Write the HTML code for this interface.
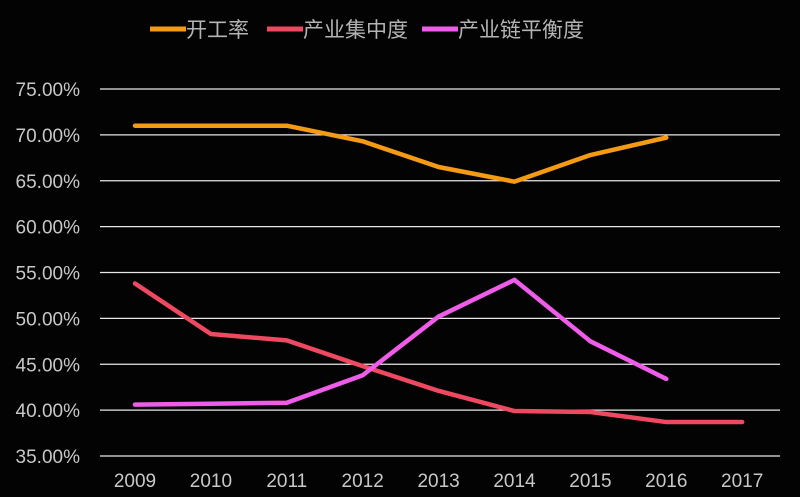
<!DOCTYPE html>
<html><head><meta charset="utf-8"><style>
html,body{margin:0;padding:0;background:#030303;}
svg{display:block;font-family:"Liberation Sans","Noto Sans CJK SC",sans-serif;}
</style></head><body>
<svg id="chart" width="800" height="497">
<g id="legend"></g>
<g id="grid"></g>
<g id="yaxis"></g>
<g id="xaxis"></g>
<g id="series"></g>
</svg>
<script>
const categories=["2009","2010","2011","2012","2013","2014","2015","2016","2017"];
const seriesNames=["开工率","产业集中度","产业链平衡度"];
const utilization=[71.0,71.0,71.0,69.3,66.5,64.9,67.8,69.7,null];
const concentration=[53.8,48.3,47.6,44.8,42.1,39.9,39.8,38.7,38.7];
const balance=[40.6,40.7,40.8,43.8,50.2,54.2,47.5,43.4,null];
const yTicks=[35,40,45,50,55,60,65,70,75];
const colors=["#f59a13","#ef4961","#ef5ce9"];
const NS="http://www.w3.org/2000/svg";
function y(v){return 456-(v-35)*(456-89)/40;}
function x(i){return 135+i*75.9;}
function mk(t,a,p){const e=document.createElementNS(NS,t);for(const k in a)e.setAttribute(k,a[k]);p.appendChild(e);return e;}
const grid=document.getElementById('grid'),ya=document.getElementById('yaxis'),xa=document.getElementById('xaxis'),sg=document.getElementById('series'),lg=document.getElementById('legend');
yTicks.forEach(v=>{
 const l=mk('line',{x1:100,x2:780,y1:y(v),y2:y(v),stroke:'#e8e8e8','stroke-width':1.3},grid);
 
 
 const t=mk('text',{x:80,y:y(v)+7,'text-anchor':'end','font-size':19,fill:'#c8c8c8'},ya);
 t.textContent=v.toFixed(2)+'%';
 
 
});
categories.forEach((c,i)=>{
 const t=mk('text',{x:x(i),y:487,'text-anchor':'middle','font-size':19,fill:'#c8c8c8'},xa);
 t.textContent=c;
 
 
});
[utilization,concentration,balance].forEach((arr,s)=>{
 let d='';arr.forEach((v,i)=>{if(v!=null)d+=(d?'L':'M')+x(i)+','+y(v);});
 const p=mk('path',{d:d,fill:'none',stroke:colors[s],'stroke-width':4.5,'stroke-linejoin':'round','stroke-linecap':'round'},sg);
 
 
});
const lx=[150,267,422];
seriesNames.forEach((n,s)=>{
 const l=mk('line',{x1:lx[s],x2:lx[s]+36,y1:29,y2:29,stroke:colors[s],'stroke-width':5},lg);
 
 
 const t=mk('text',{x:lx[s]+36,y:37,'font-size':21,fill:'#b4b4b4'},lg);
 t.textContent=n;
 
 
});
</script>
</body></html>
